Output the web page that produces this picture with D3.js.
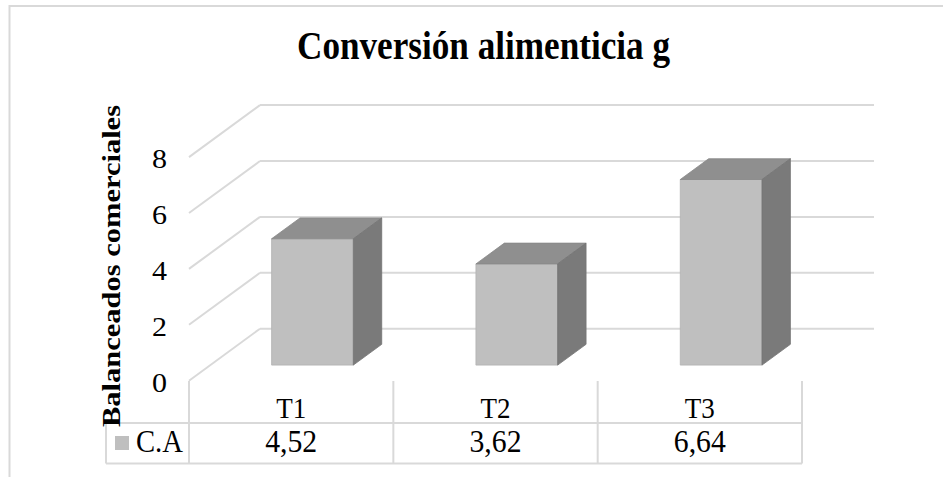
<!DOCTYPE html>
<html>
<head>
<meta charset="utf-8">
<script src="https://cdn.jsdelivr.net/npm/d3@7"></script>
<style>
  body { margin:0; background:#fff; }
</style>
</head>
<body>
<div id="allContainer"></div>
<script>
// data
var categories = ["T1", "T2", "T3"];
var values = [4.52, 3.62, 6.64];
var valueLabels = ["4,52", "3,62", "6,64"];
var seriesName = "C.A";
var yTicks = [0, 2, 4, 6, 8];

var width = 943, height = 477;
var serif = "'Liberation Serif', 'Times New Roman', serif";

// 3d geometry (oblique projection)
var depthX = 71, depthY = 52;      // front of floor -> back wall
var floorFront = 380.7;            // y of value 0 at the front edge
var barFront = 0.7, barBack = 0.3; // depth of bar faces (1 = front)

var svg = d3.select("#allContainer")
            .append("svg")
            .attr("width", width)
            .attr("height", height)
            .style("font-family", serif);

// outer chart border (cropped on right and bottom)
svg.append("rect")
    .attr("x", 9.5)
    .attr("y", 6)
    .attr("width", 960)
    .attr("height", 500)
    .attr("fill", "none")
    .attr("stroke", "#d9d9d9")
    .attr("stroke-width", 2);

var xScale = d3.scaleBand()
    .domain(categories)
    .range([189, 802]);

var yScale = d3.scaleLinear()
    .domain([0, 8])
    .range([0, 223.6]);

function px(x, d) { return x + depthX * (1 - d); }
function py(v, d) { return floorFront - depthY * (1 - d) - yScale(v); }

// grid: back wall lines + left wall diagonals
var grid = svg.append("g").attr("class", "grid");

grid.selectAll(".back")
    .data(yTicks)
    .enter()
    .append("line")
    .attr("x1", px(xScale.range()[0], 0))
    .attr("x2", px(xScale.range()[1], 0) + 1)
    .attr("y1", function (d) { return py(d, 0); })
    .attr("y2", function (d) { return py(d, 0); })
    .attr("stroke", "#d9d9d9")
    .attr("stroke-width", 2);

grid.selectAll(".side")
    .data(yTicks)
    .enter()
    .append("line")
    .attr("x1", px(xScale.range()[0], 1))
    .attr("x2", px(xScale.range()[0], 0))
    .attr("y1", function (d) { return py(d, 1); })
    .attr("y2", function (d) { return py(d, 0); })
    .attr("stroke", "#d9d9d9")
    .attr("stroke-width", 2);

// tick labels
svg.selectAll(".tick-label")
    .data(yTicks)
    .enter()
    .append("text")
    .attr("x", 167)
    .attr("y", function (d) { return py(d, 1) + 11; })
    .attr("text-anchor", "end")
    .attr("font-size", 27)
    .attr("textLength", 15)
    .attr("lengthAdjust", "spacingAndGlyphs")
    .text(function (d) { return d; });

// bars
var bw = xScale.bandwidth() * 0.4;
var bars = svg.append("g")
    .attr("class", "bars")
    .selectAll("g")
    .data(values)
    .enter()
    .append("g");

function x0(i) { return xScale(categories[i]) + (xScale.bandwidth() - bw) / 2; }

bars.append("polygon")   // front
    .attr("points", function (d, i) {
        var a = px(x0(i), barFront), b = a + bw;
        return [[a, py(0, barFront)], [b, py(0, barFront)], [b, py(d, barFront)], [a, py(d, barFront)]].join(" ");
    })
    .attr("fill", "#bfbfbf")
    .attr("stroke", "#b3b3b3")
    .attr("stroke-width", 0.8);

bars.append("polygon")   // top
    .attr("points", function (d, i) {
        var a = x0(i), b = a + bw;
        return [[px(a, barFront), py(d, barFront)], [px(b, barFront), py(d, barFront)],
                [px(b, barBack), py(d, barBack)], [px(a, barBack), py(d, barBack)]].join(" ");
    })
    .attr("fill", "#8f8f8f")
    .attr("stroke", "#888")
    .attr("stroke-width", 0.8);

bars.append("polygon")   // side
    .attr("points", function (d, i) {
        var b = x0(i) + bw;
        return [[px(b, barFront), py(0, barFront)], [px(b, barBack), py(0, barBack)],
                [px(b, barBack), py(d, barBack)], [px(b, barFront), py(d, barFront)]].join(" ");
    })
    .attr("fill", "#7a7a7a")
    .attr("stroke", "#747474")
    .attr("stroke-width", 0.8);

// data table under the axis
var tTop = 381, tMid = 423, tBot = 463.5, legLeft = 106;
var table = svg.append("g").attr("class", "table")
    .attr("stroke", "#d9d9d9")
    .attr("stroke-width", 2);

var cuts = categories.map(function (c) { return xScale(c); }).concat([xScale.range()[1]]);
table.selectAll(".v")
    .data(cuts)
    .enter()
    .append("line")
    .attr("x1", function (d) { return d; })
    .attr("x2", function (d) { return d; })
    .attr("y1", tTop)
    .attr("y2", tBot);

table.append("line").attr("x1", legLeft).attr("x2", xScale.range()[1]).attr("y1", tMid).attr("y2", tMid);
table.append("line").attr("x1", legLeft).attr("x2", xScale.range()[1]).attr("y1", tBot).attr("y2", tBot);
table.append("line").attr("x1", legLeft).attr("x2", legLeft).attr("y1", tMid).attr("y2", tBot);

svg.selectAll(".cat")
    .data(categories)
    .enter()
    .append("text")
    .attr("x", function (d) { return xScale(d) + xScale.bandwidth() / 2; })
    .attr("y", 418)
    .attr("text-anchor", "middle")
    .attr("font-size", 30)
    .attr("textLength", 30)
    .attr("lengthAdjust", "spacingAndGlyphs")
    .text(function (d) { return d; });

svg.selectAll(".val")
    .data(valueLabels)
    .enter()
    .append("text")
    .attr("x", function (d, i) { return xScale(categories[i]) + xScale.bandwidth() / 2; })
    .attr("y", 452)
    .attr("text-anchor", "middle")
    .attr("font-size", 31)
    .attr("textLength", 52)
    .attr("lengthAdjust", "spacingAndGlyphs")
    .text(function (d) { return d; });

// legend key
svg.append("rect")
    .attr("x", 115)
    .attr("y", 436)
    .attr("width", 14)
    .attr("height", 14)
    .attr("fill", "#bfbfbf");

svg.append("text")
    .attr("x", 136)
    .attr("y", 452)
    .attr("font-size", 31)
    .attr("textLength", 47)
    .attr("lengthAdjust", "spacingAndGlyphs")
    .text(seriesName);

// title
svg.append("text")
    .attr("x", 297)
    .attr("y", 59)
    .attr("font-size", 39)
    .attr("font-weight", "bold")
    .attr("textLength", 373)
    .attr("lengthAdjust", "spacingAndGlyphs")
    .text("Conversión alimenticia g");

// y-axis title
svg.append("text")
    .attr("transform", "translate(120,427) rotate(-90)")
    .attr("font-size", 26)
    .attr("font-weight", "bold")
    .attr("textLength", 322)
    .attr("lengthAdjust", "spacingAndGlyphs")
    .text("Balanceados comerciales");
</script>
</body>
</html>
